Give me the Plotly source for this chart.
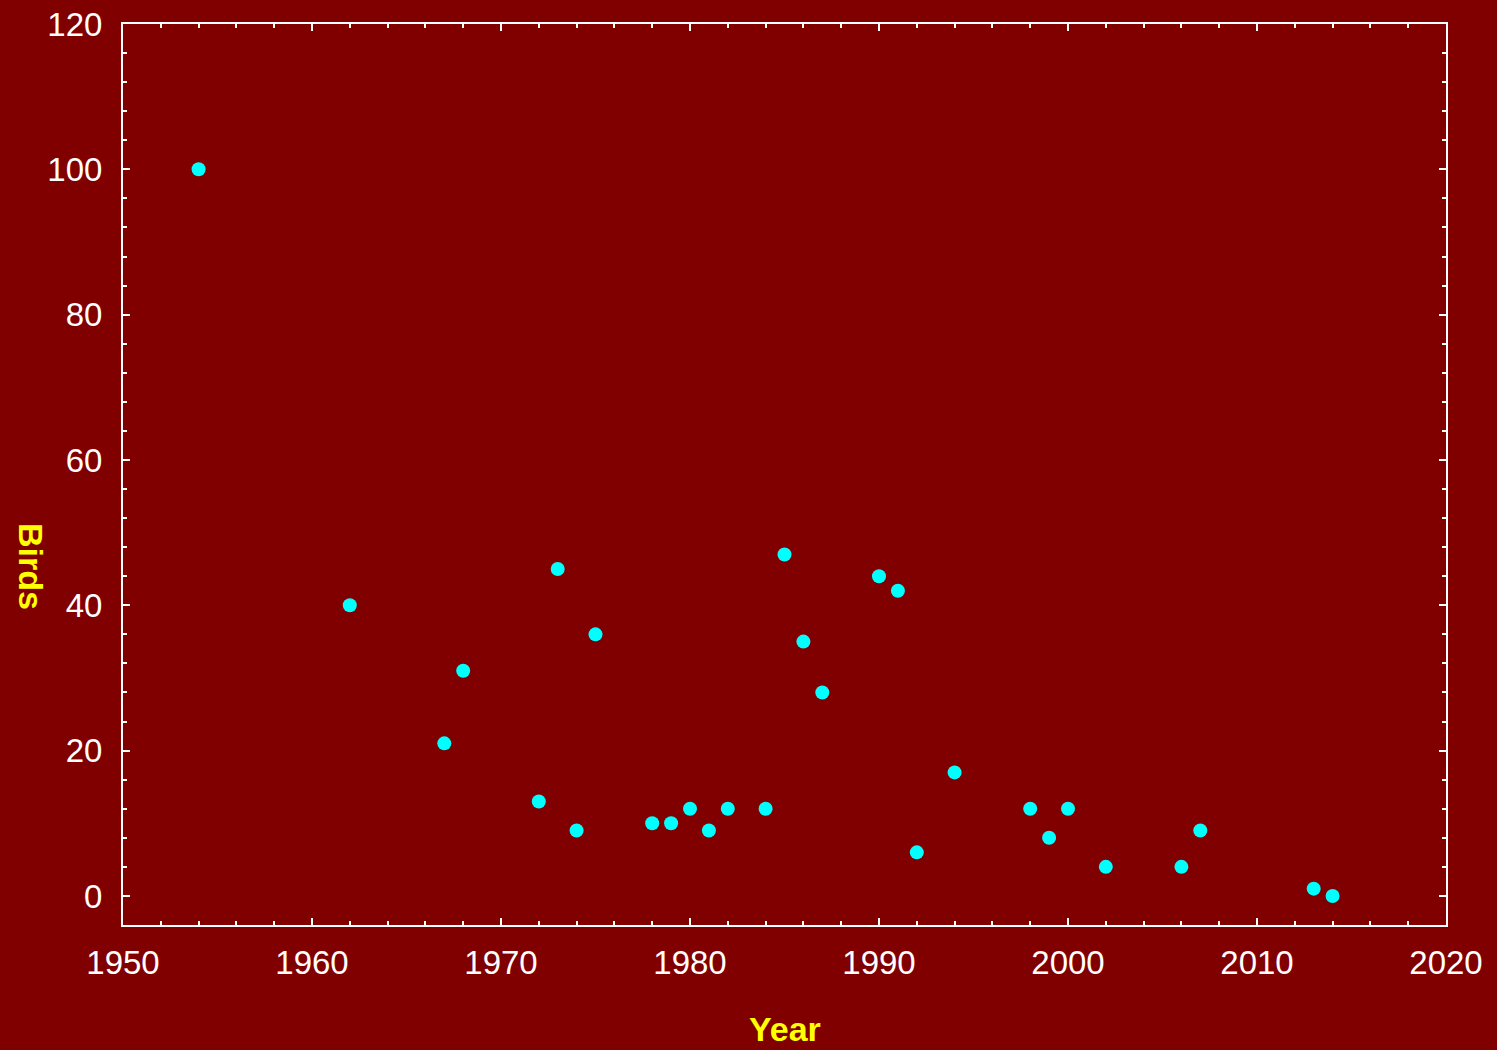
import plotly.graph_objects as go

years = [1954, 1962, 1967, 1968, 1972, 1973, 1974, 1975, 1978, 1979, 1980, 1981, 1982,
         1984, 1985, 1986, 1987, 1990, 1991, 1992, 1994, 1998, 1999, 2000, 2002, 2006,
         2007, 2013, 2014]
birds = [100, 40, 21, 31, 13, 45, 9, 36, 10, 10, 12, 9, 12,
         12, 47, 35, 28, 44, 42, 6, 17, 12, 8, 12, 4, 4,
         9, 1, 0]

bg = "#800000"
font = "Liberation Sans, Arial, sans-serif"

fig = go.Figure()
fig.add_trace(go.Scatter(
    x=years, y=birds, mode="markers",
    marker=dict(color="#00ffff", size=14, line=dict(width=0)),
    hoverinfo="skip", showlegend=False,
))

axis_common = dict(
    showline=True, linecolor="white", linewidth=2, mirror="ticks",
    ticks="inside", ticklen=7, tickwidth=2, tickcolor="white",
    showgrid=False, zeroline=False, automargin=False,
    tickfont=dict(family=font, size=33, color="white"),
    minor=dict(ticks="inside", ticklen=4, tickwidth=2, tickcolor="white", showgrid=False),
)

fig.update_xaxes(range=[1950, 2020], tick0=1950, dtick=10,
                 minor_dtick=2, ticklabelstandoff=7, **axis_common)
fig.update_yaxes(range=[-4, 120], tick0=0, dtick=20,
                 minor_dtick=4, ticklabelstandoff=12, **axis_common)

fig.add_annotation(text="<b>Year</b>", xref="paper", yref="paper", x=0.5, y=-0.115,
                   yanchor="middle", showarrow=False,
                   font=dict(family=font, size=34, color="yellow"))
fig.add_annotation(text="<b>Birds</b>", xref="paper", yref="paper", x=-0.07, y=0.398,
                   xanchor="center", yanchor="middle", textangle=90, showarrow=False,
                   font=dict(family=font, size=34, color="yellow"))

fig.update_layout(
    width=1497, height=1050,
    paper_bgcolor=bg, plot_bgcolor=bg,
    margin=dict(l=123, r=51, t=24, b=125),
)

fig.write_html("out.html", config={"displayModeBar": False},
               post_script="document.body.style.margin='0';document.body.style.overflow='hidden';")
